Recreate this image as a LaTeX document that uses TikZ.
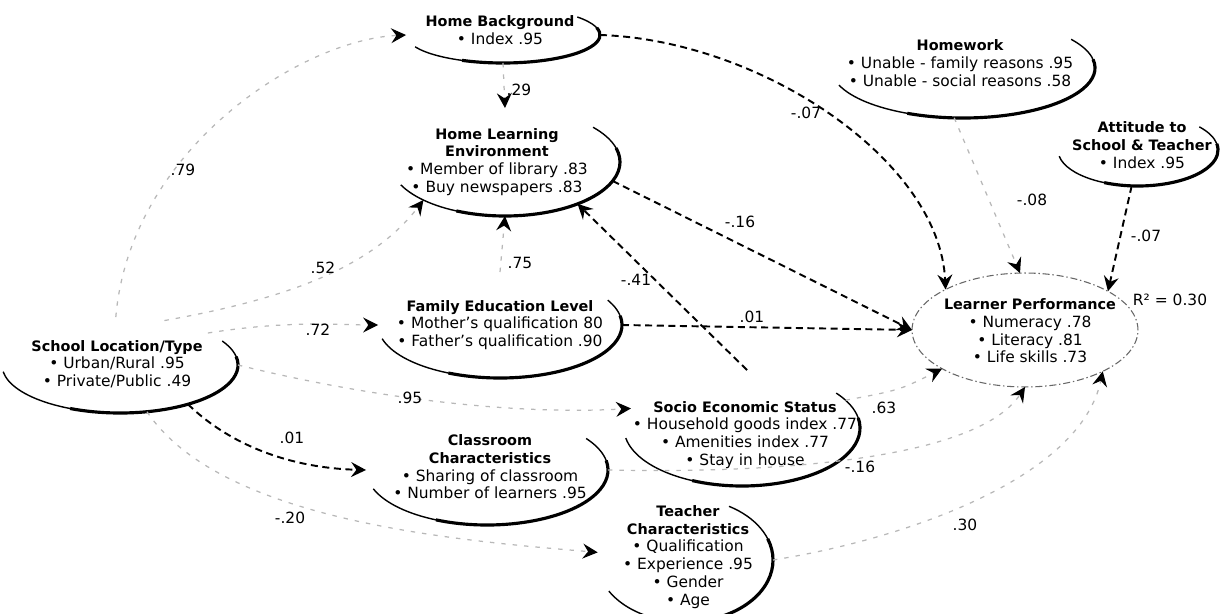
\documentclass[tikz,border=0pt]{standalone}
\usepackage{fontspec}
\setmainfont{DejaVu Sans}
\usetikzlibrary{arrows.meta,shapes.geometric}
\newcommand\hd[1]{{\fontsize{8.2}{10.1}\selectfont\bfseries #1}}
\tikzset{
  ell/.style n args={2}{ellipse, minimum width=#1*0.04cm, minimum height=#2*0.04cm, inner sep=0pt, outer sep=0pt},
  txt/.style={align=center, font=\fontsize{8.8}{10.1}\selectfont, inner sep=0pt},
  lbl/.style={font=\fontsize{8.8}{10}\selectfont, inner sep=0pt},
  arrtip/.style={-{Stealth[length=8.5pt,width=8.5pt,inset=3pt,color=black]}},
  dashc/.style={arrtip, line width=1.1pt, dash pattern=on 4pt off 2.6pt},
  faintc/.style={arrtip, line width=0.7pt, draw=black!28, dash pattern=on 2.5pt off 4pt},
  rim/.style={line width=0.8pt},
  rimthick/.style={line width=1.8pt},
  lprim/.style={draw=black!60, line width=0.6pt, dash pattern=on 4pt off 1.6pt on 0.8pt off 1.6pt},
}
\newcommand\rimarc[6]{\draw[#6] (#1.center) ++(#4:#2 and #3) arc[start angle=#4, end angle=#5, x radius=#2, y radius=#3];}
\begin{document}
\begin{tikzpicture}[x=0.02cm, y=-0.02cm]
\useasboundingbox (0,0) rectangle (1222,614);
\fill[white] (0,0) rectangle (1222,614);

% ellipse nodes
\node[ell={97}{28}] (hb) at (503,35) {};
\node[ell={132}{50}] (hw) at (963,68) {};
\node[ell={80}{36}] (att) at (1138,150) {};
\node[ell={115}{54}] (hle) at (505,162) {};
\node[ell={122}{53}] (fel) at (500,325) {};
\node[ell={118}{48}] (sl) at (120,365) {};
\node[ell={118}{58}] (ses) at (742,428) {};
\node[ell={121}{55}] (cc) at (487,470) {};
\node[ell={88}{62}] (tc) at (685,560) {};
\node[ell={113}{57}, lprim, draw] (lp) at (1025,330) {};

% rims
\rimarc{hb}{97}{28}{155}{-40}{rim}
\rimarc{hb}{97}{28}{115}{-15}{rimthick}
\rimarc{hw}{132}{50}{160}{-35}{rim}
\rimarc{hw}{132}{50}{115}{-10}{rimthick}
\rimarc{att}{80}{36}{170}{-40}{rim}
\rimarc{att}{80}{36}{115}{-10}{rimthick}
\rimarc{hle}{115}{54}{155}{-40}{rim}
\rimarc{hle}{115}{54}{115}{-15}{rimthick}
\rimarc{fel}{122}{53}{165}{-28}{rim}
\rimarc{fel}{122}{53}{115}{-10}{rimthick}
\rimarc{sl}{118}{48}{172}{-30}{rim}
\rimarc{sl}{118}{48}{115}{-10}{rimthick}
\rimarc{ses}{118}{58}{170}{-37}{rim}
\rimarc{ses}{118}{58}{115}{-10}{rimthick}
\rimarc{cc}{121}{55}{160}{-35}{rim}
\rimarc{cc}{121}{55}{115}{-10}{rimthick}
\rimarc{tc}{88}{62}{150}{-60}{rim}
\rimarc{tc}{88}{62}{110}{-20}{rimthick}

% texts
\node[txt] (hbt) at (500,30) {\hd{Home Background}\\• Index .95};
\node[txt] (hwt) at (960,63) {\hd{Homework}\\• Unable - family reasons .95\\• Unable - social reasons .58};
\node[txt] (attt) at (1142,145) {\hd{Attitude to}\\\hd{School \& Teacher}\\• Index .95};
\node[txt] (hlet) at (497,162) {\hd{Home Learning}\\\hd{Environment}\\• Member of library .83\\• Buy newspapers .83};
\node[txt] (felt) at (500,325) {\hd{Family Education Level}\\• Mother's qualification 80\\• Father's qualification .90};
\node[txt] (slt) at (117,364) {\hd{School Location/Type}\\• Urban/Rural .95\\• Private/Public .49};
\node[txt] (sest) at (745,435) {\hd{Socio Economic Status}\\• Household goods index .77\\• Amenities index .77\\• Stay in house};
\node[txt] (cct) at (490,467) {\hd{Classroom}\\\hd{Characteristics}\\• Sharing of classroom\\• Number of learners .95};
\node[txt] (tct) at (688,557) {\hd{Teacher}\\\hd{Characteristics}\\• Qualification\\• Experience .95\\• Gender\\• Age};
\node[txt] (lpt) at (1030,331) {\hd{Learner Performance}\\• Numeracy .78\\• Literacy .81\\• Life skills .73};

% visible dashed connectors
\draw[dashc] (hb.east) .. controls (760,40) and (940,160) .. (lp.153);
\draw[dashc] (att.-100) -- (lp.25);
\draw[dashc] (hle.-10) -- (lp.180);
\draw[dashc] (fel.east) -- (lp.180);
\draw[dashc] (ses.85) -- (hle.-30);
\draw[dashc] (sl.-30) .. controls (230,445) and (290,468) .. (cc.west);

% faint connectors
\draw[faintc] (hb.south) -- (hle.north);
\draw[faintc] (sl.95) .. controls (130,150) and (300,40) .. (hb.west);
\draw[faintc] (sl.45) .. controls (280,300) and (370,270) .. (hle.205);
\draw[faintc] (sl.20) .. controls (290,320) and (340,325) .. (fel.west);
\draw[faintc] (sl.0) .. controls (380,400) and (520,415) .. (ses.170);
\draw[faintc] (sl.-60) .. controls (220,520) and (450,540) .. (tc.175);
\draw[faintc] (fel.north) -- (hle.south);
\draw[faintc] (hw.-100) -- (lp.95);
\draw[faintc] (ses.15) .. controls (900,390) .. (lp.205);
\draw[faintc] (cc.east) .. controls (800,474) and (980,455) .. (lp.270);
\draw[faintc] (tc.east) .. controls (900,540) and (1080,480) .. (lp.332);

% coefficient labels
\node[lbl] (c1) at (519,90) {.29};
\node[lbl] (c2) at (806,113) {-.07};
\node[lbl] (c3) at (183,170) {.79};
\node[lbl] (c4) at (1032,200) {-.08};
\node[lbl] (c5) at (740,222) {-.16};
\node[lbl] (c6) at (1146,236) {-.07};
\node[lbl] (c7) at (323,268) {.52};
\node[lbl] (c8) at (520,263) {.75};
\node[lbl] (c9) at (636,280) {-.41};
\node[lbl] (c10) at (318,330) {.72};
\node[lbl] (c11) at (752,317) {.01};
\node[lbl] (c12) at (410,398) {.95};
\node[lbl] (c13) at (884,408) {.63};
\node[lbl] (c14) at (292,438) {.01};
\node[lbl] (c15) at (860,467) {-.16};
\node[lbl] (c16) at (965,525) {.30};
\node[lbl] (c17) at (290,518) {-.20};
\node[lbl] (r2) at (1170,300) {R² = 0.30};
\end{tikzpicture}
\end{document}
